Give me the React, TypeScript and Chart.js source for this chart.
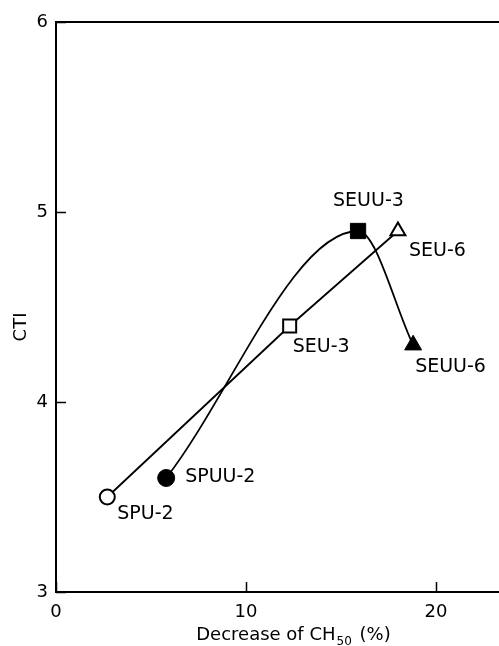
import React, { useEffect, useRef } from "react";
import { Chart, registerables } from "chart.js";

Chart.register(...registerables);

// ---- data ----
const openLabels = ["SPU-2", "SEU-3", "SEU-6"];
const openX = [2.7, 12.3, 18.0];
const openY = [3.5, 4.4, 4.9];

const filledLabels = ["SPUU-2", "SEUU-3", "SEUU-6"];
const filledX = [5.8, 15.9, 18.8];
const filledY = [3.6, 4.9, 4.3];

const xTicks = [0, 10, 20];
const yTicks = [3, 4, 5, 6];
const xTitleMain = "Decrease of CH";
const xTitleSub = "50";
const xTitleEnd = " (%)";
const yTitle = "CTI";

// ---- styles ----
const pointStyles = ["circle", "rect", "triangle"];
const openRadii = [7.5, 9.2, 8.6];
const filledRadii = [8.5, 10.8, 9.8];
const openLabelOffsets = [
  [10, 17],
  [3, 21],
  [11, 20],
];
const filledLabelOffsets = [
  [19, -1],
  [-25, -30],
  [2, 22],
];
const FONT = "DejaVu Sans";

const overlay = {
  id: "overlay",
  afterDraw(chart: any) {
    const { ctx, chartArea, scales } = chart;
    const xs = scales.x;
    const ys = scales.y;
    ctx.save();
    ctx.strokeStyle = "#000";
    ctx.fillStyle = "#000";
    // frame: left, bottom, top
    ctx.lineWidth = 2;
    ctx.beginPath();
    ctx.moveTo(chartArea.right, chartArea.top);
    ctx.lineTo(chartArea.left, chartArea.top);
    ctx.lineTo(chartArea.left, chartArea.bottom);
    ctx.lineTo(chartArea.right, chartArea.bottom);
    ctx.stroke();
    // inward ticks
    ctx.lineWidth = 1.5;
    ctx.beginPath();
    xTicks.forEach((v) => {
      const px = Math.round(xs.getPixelForValue(v)) + 0.5;
      ctx.moveTo(px, chartArea.bottom);
      ctx.lineTo(px, chartArea.bottom - 10);
    });
    yTicks.forEach((v) => {
      const py = Math.round(ys.getPixelForValue(v)) + 0.5;
      ctx.moveTo(chartArea.left, py);
      ctx.lineTo(chartArea.left + 10, py);
    });
    ctx.stroke();
    // tick labels
    ctx.font = `18px "${FONT}"`;
    ctx.textBaseline = "middle";
    ctx.textAlign = "center";
    xTicks.forEach((v) => {
      ctx.fillText(String(v), xs.getPixelForValue(v), chartArea.bottom + 20);
    });
    ctx.textAlign = "right";
    yTicks.forEach((v) => {
      ctx.fillText(String(v), chartArea.left - 8, ys.getPixelForValue(v));
    });
    // x title with subscript
    const mainW = ctx.measureText(xTitleMain).width;
    ctx.font = `12px "${FONT}"`;
    const subW = ctx.measureText(xTitleSub).width;
    ctx.font = `18px "${FONT}"`;
    const endW = ctx.measureText(xTitleEnd).width;
    const total = mainW + subW + 3 + endW;
    let tx = xs.getPixelForValue(12.5) - total / 2;
    const ty = chartArea.bottom + 43;
    ctx.textAlign = "left";
    ctx.fillText(xTitleMain, tx, ty);
    tx += mainW + 1;
    ctx.font = `12px "${FONT}"`;
    ctx.fillText(xTitleSub, tx, ty + 7);
    tx += subW + 2;
    ctx.font = `18px "${FONT}"`;
    ctx.fillText(xTitleEnd, tx, ty);
    // y title rotated
    ctx.save();
    ctx.translate(21, ys.getPixelForValue(4.395));
    ctx.rotate(-Math.PI / 2);
    ctx.textAlign = "center";
    ctx.fillText(yTitle, 0, 0);
    ctx.restore();
    // point labels
    ctx.font = `19px "${FONT}"`;
    ctx.textAlign = "left";
    const drawLabels = (di: number, labels: string[], offs: number[][]) => {
      const meta = chart.getDatasetMeta(di);
      meta.data.forEach((pt: any, i: number) => {
        ctx.fillText(labels[i], pt.x + offs[i][0], pt.y + offs[i][1]);
      });
    };
    drawLabels(0, openLabels, openLabelOffsets);
    drawLabels(1, filledLabels, filledLabelOffsets);
    ctx.restore();
  },
};

export default function App() {
  const ref = useRef<HTMLCanvasElement | null>(null);
  useEffect(() => {
    document.body.style.margin = "0";
    if (!ref.current) return;
    const chart = new Chart(ref.current, {
      type: "line",
      data: {
        datasets: [
          {
            label: "open",
            data: openX.map((x, i) => ({ x, y: openY[i] })),
            borderColor: "#000",
            borderWidth: 1.8,
            tension: 0,
            pointStyle: pointStyles as any,
            pointRadius: openRadii,
            pointBackgroundColor: "#fff",
            pointBorderColor: "#000",
            pointBorderWidth: 2,
            fill: false,
          },
          {
            label: "filled",
            data: filledX.map((x, i) => ({ x, y: filledY[i] })),
            borderColor: "#000",
            borderWidth: 1.8,
            cubicInterpolationMode: "monotone",
            pointStyle: pointStyles as any,
            pointRadius: filledRadii,
            pointBackgroundColor: "#000",
            pointBorderColor: "#000",
            pointBorderWidth: 1,
            fill: false,
          },
        ],
      },
      options: {
        responsive: false,
        animation: false,
        devicePixelRatio: 1,
        layout: { autoPadding: false, padding: { left: 56, top: 22, right: 0, bottom: 54 } },
        plugins: { legend: { display: false }, tooltip: { enabled: false } },
        scales: {
          x: { type: "linear", display: false, min: 0, max: 23.32 },
          y: { type: "linear", display: false, min: 3, max: 6 },
        },
      },
      plugins: [overlay],
    });
    return () => chart.destroy();
  }, []);
  return (
    <div style={{ position: "absolute", left: 0, top: 0, width: 499, height: 646, background: "#fff" }}>
      <canvas ref={ref} width={499} height={646} />
    </div>
  );
}
